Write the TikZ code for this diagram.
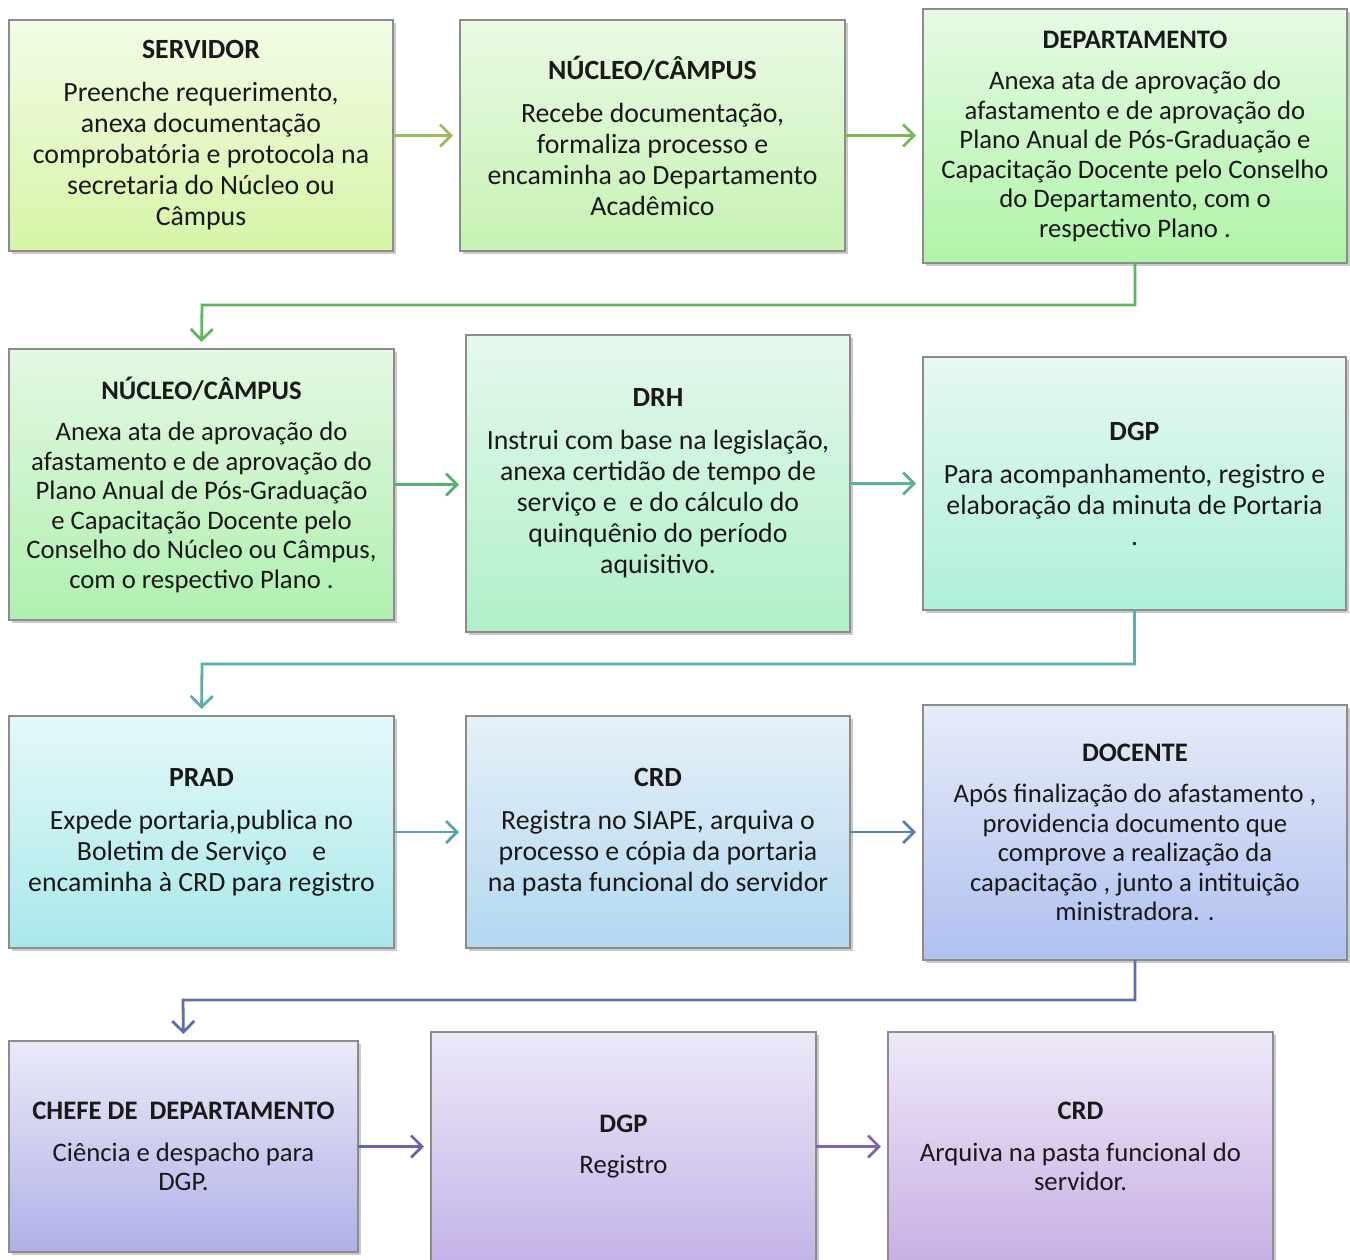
\documentclass[tikz,border=0pt]{standalone}
\usepackage{fontspec}
\setmainfont{Carlito}
\usetikzlibrary{arrows.meta,shadows}
\definecolor{aA}{HTML}{9BBB59}
\definecolor{aB}{HTML}{77BB55}
\definecolor{cA}{HTML}{5CB85C}
\definecolor{aC}{HTML}{52B070}
\definecolor{aD}{HTML}{5AB48E}
\definecolor{cB}{HTML}{5AAFAA}
\definecolor{aE}{HTML}{5A9EB2}
\definecolor{aF}{HTML}{5A80B2}
\definecolor{cC}{HTML}{606CB0}
\definecolor{aG}{HTML}{6C62B2}
\definecolor{aH}{HTML}{8462B4}
\tikzset{
  box/.style={draw=black!45, line width=1.2pt, inner sep=0pt, outer sep=0pt,
    align=center, text=black!90,
    drop shadow={shadow xshift=2.5pt, shadow yshift=-3pt, opacity=0.35, fill=black!60}},
  fa/.style={font=\fontsize{27.8}{31}\selectfont},
  fb/.style={font=\fontsize{26.7}{29.5}\selectfont},
  arr/.style={line width=2.8pt, -{Straight Barb[length=11pt,width=22pt,line width=2.8pt]}, shorten >=7pt},
}
\newcommand{\ttl}[1]{{\bfseries #1}\\[12pt]}
\begin{document}
\begin{tikzpicture}[x=1pt,y=-1pt]
\useasboundingbox (0,0) rectangle (1350,1259);
% row 1
\node[box,fa,minimum width=384pt,minimum height=231pt,top color={rgb,255:red,242;green,252;blue,230},bottom color={rgb,255:red,214;green,245;blue,166}] (b1) at (201,135.5)
 {\ttl{SERVIDOR}Preenche requerimento,\\anexa documentação\\comprobatória e protocola na\\secretaria do Núcleo ou\\Câmpus};
\node[box,fa,minimum width=385pt,minimum height=231pt,top color={rgb,255:red,234;green,250;blue,228},bottom color={rgb,255:red,198;green,242;blue,178}] (b2) at (652.5,135.5)
 {\ttl{NÚCLEO/CÂMPUS}Recebe documentação,\\formaliza processo e\\encaminha ao Departamento\\Acadêmico};
\node[box,fb,minimum width=424pt,minimum height=254pt,top color={rgb,255:red,230;green,250;blue,228},bottom color={rgb,255:red,176;green,244;blue,168}] (b3) at (1135,136)
 {\ttl{DEPARTAMENTO}Anexa ata de aprovação do\\afastamento e de aprovação do\\Plano Anual de Pós-Graduação e\\Capacitação Docente pelo Conselho\\do Departamento, com o\\respectivo Plano .};
% row 2
\node[box,fb,minimum width=385pt,minimum height=271pt,top color={rgb,255:red,228;green,248;blue,226},bottom color={rgb,255:red,176;green,240;blue,176}] (b4) at (201.5,484.5)
 {\ttl{NÚCLEO/CÂMPUS}Anexa ata de aprovação do\\afastamento e de aprovação do\\Plano Anual de Pós-Graduação\\e Capacitação Docente pelo\\Conselho do Núcleo ou Câmpus,\\com o respectivo Plano .};
\node[box,fa,minimum width=384pt,minimum height=297pt,top color={rgb,255:red,228;green,248;blue,236},bottom color={rgb,255:red,176;green,240;blue,200}] (b5) at (658,483.5)
 {\ttl{DRH}Instrui com base na legislação,\\anexa certidão de tempo de\\serviço e\ \ e do cálculo do\\quinquênio do período\\aquisitivo.};
\node[box,fa,minimum width=423pt,minimum height=253pt,top color={rgb,255:red,230;green,248;blue,242},bottom color={rgb,255:red,174;green,240;blue,216}] (b6) at (1134.5,483.5)
 {\ttl{DGP}Para acompanhamento, registro e\\elaboração da minuta de Portaria\\.};
% row 3
\node[box,fa,minimum width=385pt,minimum height=232pt,top color={rgb,255:red,228;green,248;blue,248},bottom color={rgb,255:red,168;green,232;blue,234}] (b7) at (201.5,832)
 {\ttl{PRAD}Expede portaria,publica no\\Boletim de Serviço\ \ \ \ e\\encaminha à CRD para registro};
\node[box,fa,minimum width=384pt,minimum height=232pt,top color={rgb,255:red,230;green,240;blue,248},bottom color={rgb,255:red,178;green,216;blue,240}] (b8) at (658,832)
 {\ttl{CRD}Registra no SIAPE, arquiva o\\processo e cópia da portaria\\na pasta funcional do servidor};
\node[box,fb,minimum width=424pt,minimum height=255pt,top color={rgb,255:red,230;green,236;blue,248},bottom color={rgb,255:red,176;green,192;blue,240}] (b9) at (1135,832.5)
 {\ttl{DOCENTE}Após finalização do afastamento ,\\providencia documento que\\comprove a realização da\\capacitação , junto a intituição\\ministradora. .};
% row 4
\node[box,fb,minimum width=349pt,minimum height=211pt,top color={rgb,255:red,234;green,234;blue,248},bottom color={rgb,255:red,176;green,176;blue,232}] (b10) at (183.5,1146.5)
 {\ttl{CHEFE DE\ \ DEPARTAMENTO}Ciência e despacho para\\DGP.};
\node[box,fb,minimum width=385pt,minimum height=229pt,top color={rgb,255:red,236;green,232;blue,248},bottom color={rgb,255:red,196;green,180;blue,232}] (b11) at (623.5,1146.5)
 {\ttl{DGP}Registro};
\node[box,fb,minimum width=385pt,minimum height=229pt,top color={rgb,255:red,238;green,232;blue,248},bottom color={rgb,255:red,200;green,176;blue,228}] (b12) at (1080.5,1146.5)
 {\ttl{CRD}Arquiva na pasta funcional do\\servidor.};
% connectors
\coordinate (k1) at (202,305);
\coordinate (k2) at (202,664);
\coordinate (k3) at (183,1000);
\draw[arr,aA] (b1.east) -- (b2.west |- b1.east);
\draw[arr,aB] (b2.east) -- (b3.west |- b2.east);
\draw[arr,cA] (b3.south) |- (k1) -- (b4.north);
\draw[arr,aC] (b4.east) -- (b5.west |- b4.east);
\draw[arr,aD] (b5.east) -- (b6.west |- b5.east);
\draw[arr,cB] (b6.south) |- (k2) -- (b7.north);
\draw[arr,aE] (b7.east) -- (b8.west |- b7.east);
\draw[arr,aF] (b8.east) -- (b9.west |- b8.east);
\draw[arr,cC] (b9.south) |- (k3) -- (b10.north);
\draw[arr,aG] (b10.east) -- (b11.west |- b10.east);
\draw[arr,aH] (b11.east) -- (b12.west |- b11.east);
\end{tikzpicture}
\end{document}
